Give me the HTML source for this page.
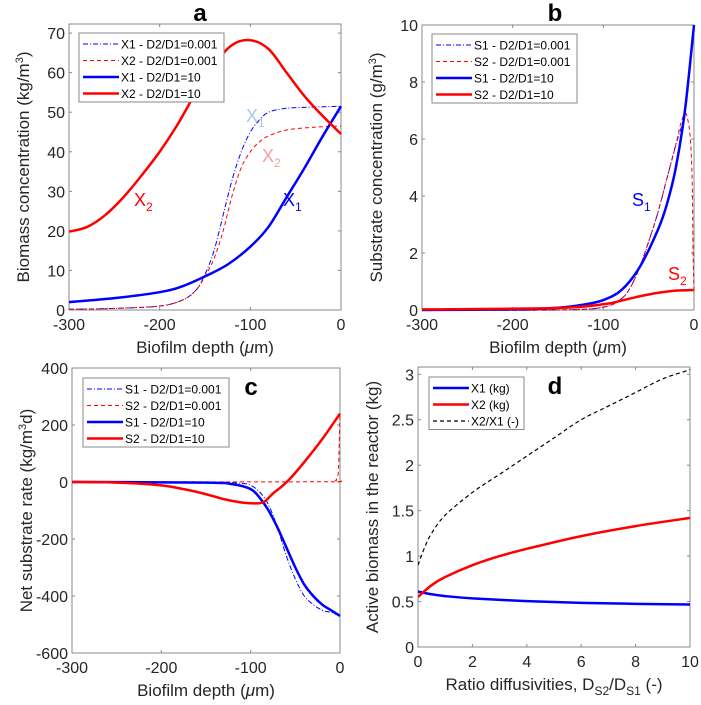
<!DOCTYPE html>
<html><head><meta charset="utf-8"><style>
body{margin:0;background:#fff;}
svg{display:block;font-family:"Liberation Sans",Arial,sans-serif;}
</style></head><body>
<svg id="chart" width="701" height="705" viewBox="0 0 701 705"></svg>
<script>
// ---- Panel a data ----
const aX = [-300,-250,-200,-175,-160,-150,-140,-130,-120,-110,-100,-90,-80,-60,-30,0];
const aX1thin = [0.2,0.4,1,2.5,5,9,15,24,33,40,45,48,50,51,51.3,51.5];
const aX2thin = [0.2,0.4,1,2.5,5,8.5,13,20,29,36,40,42.5,44,45.5,46.2,46.5];
const aXthick = [-300,-250,-200,-175,-150,-125,-100,-80,-60,-40,-20,0];
const aX1thick = [2,3,4.5,6,8.5,11.5,16,21,28.5,36,44,51.5];
const aX2x = [-300,-280,-260,-240,-220,-200,-180,-160,-140,-120,-100,-80,-60,-40,-20,0];
const aX2thick = [19.8,21,24,28.5,34,40,47,55,62,67,68.2,66,60,54,49,44.5];
const aYTicks = [0,10,20,30,40,50,60,70];
const depthTicks = [-300,-200,-100,0];
// ---- Panel b data ----
const bS1thinX = [-300,-150,-100,-80,-70,-60,-50,-40,-30,-20,-10,-5,0];
const bS1thin = [0,0,0.1,0.4,0.8,1.5,2.4,3.4,4.6,5.8,6.9,8.3,10];
const bS2thinX = [-300,-150,-100,-80,-70,-60,-50,-40,-30,-20,-15,-10,-7,-4,-2,-1,0];
const bS2thin = [0,0,0.1,0.4,0.8,1.5,2.4,3.4,4.6,5.8,6.5,6.9,6.7,6,4.5,2,0.7];
const bS1thickX = [-300,-200,-150,-120,-100,-80,-60,-40,-30,-20,-10,0];
const bS1thick = [0,0.02,0.08,0.2,0.35,0.7,1.5,2.8,3.7,5,7,10];
const bS2thickX = [-300,-150,-100,-80,-60,-40,-20,0];
const bS2thick = [0.02,0.07,0.2,0.33,0.48,0.6,0.68,0.7];
const bYTicks = [0,2,4,6,8,10];
// ---- Panel c data ----
const cS1thinX = [-300,-150,-110,-100,-90,-80,-70,-60,-50,-40,-30,-20,-10,0];
const cS1thin = [0,0,-5,-12,-35,-80,-160,-260,-340,-400,-430,-450,-458,-470];
const cS2thinX = [-300,-10,-5,-2,-1,0];
const cS2thin = [0,1,5,30,120,240];
const cS1thickX = [-300,-150,-120,-100,-90,-80,-70,-60,-50,-40,-30,-20,-10,0];
const cS1thick = [0,-2,-8,-25,-55,-100,-160,-230,-300,-360,-400,-430,-450,-470];
const cS2thickX = [-300,-250,-200,-160,-130,-110,-95,-85,-75,-65,-55,-40,-20,0];
const cS2thick = [0,-2,-12,-35,-60,-72,-75,-70,-40,-15,15,70,150,240];
const cYTicks = [-600,-400,-200,0,200,400];
// ---- Panel d data ----
const dX1x = [0,0.5,1,2,4,6,8,10];
const dX1 = [0.61,0.58,0.56,0.535,0.505,0.485,0.475,0.468];
const dX2x = [0,0.5,1,2,3,4,6,8,10];
const dX2 = [0.55,0.68,0.77,0.9,1.0,1.08,1.22,1.33,1.42];
const dRx = [0,0.25,0.5,1,2,3,4,5,6,7,8,9,10];
const dRatio = [0.9,1.1,1.25,1.45,1.7,1.9,2.1,2.3,2.5,2.65,2.8,2.95,3.05];
const dXTicks = [0,2,4,6,8,10];
const dYTicks = [0,0.5,1,1.5,2,2.5,3];

const NS="http://www.w3.org/2000/svg";
const svg=document.getElementById('chart');
function mk(tag,attrs,parent,text){const e=document.createElementNS(NS,tag);for(const k in attrs)e.setAttribute(k,attrs[k]);if(text!==undefined)e.textContent=text;(parent||svg).appendChild(e);return e;}
function smoothPath(pts){let d='M'+pts[0][0]+','+pts[0][1];for(let i=0;i<pts.length-1;i++){const p0=pts[Math.max(0,i-1)],p1=pts[i],p2=pts[i+1],p3=pts[Math.min(pts.length-1,i+2)];const c1x=p1[0]+(p2[0]-p0[0])/6,c1y=p1[1]+(p2[1]-p0[1])/6,c2x=p2[0]-(p3[0]-p1[0])/6,c2y=p2[1]-(p3[1]-p1[1])/6;d+=' C'+c1x+','+c1y+' '+c2x+','+c2y+' '+p2[0]+','+p2[1];}return d;}
const styles={thinBlue:{stroke:'#0000ff','stroke-width':1,'stroke-dasharray':'5,2,1,2'},thinRed:{stroke:'#ff0000','stroke-width':1,'stroke-dasharray':'4,3'},thickBlue:{stroke:'#0000ff','stroke-width':2.5},thickRed:{stroke:'#ff0000','stroke-width':2.5},dashBlack:{stroke:'#000','stroke-width':1.2,'stroke-dasharray':'4,3'}};

function panel(p){
  const g=mk('g',{});  
  const sx=v=>p.l+(v-p.xmin)/(p.xmax-p.xmin)*(p.r-p.l);
  const sy=v=>p.b-(v-p.ymin)/(p.ymax-p.ymin)*(p.b-p.t);
  const clip='clip-'+p.name; const cp=mk('clipPath',{id:clip},g); mk('rect',{x:p.l,y:p.t-2,width:p.r-p.l+2,height:p.b-p.t+4},cp);
  const ax=mk('rect',{x:p.l,y:p.t,width:p.r-p.l,height:p.b-p.t,fill:'none',stroke:'#888','stroke-width':1},g);
   
  p.xt.forEach(v=>{const x=sx(v);mk('line',{x1:x,x2:x,y1:p.b,y2:p.b-3,stroke:'#888'},g);mk('line',{x1:x,x2:x,y1:p.t,y2:p.t+3,stroke:'#888'},g);
    const t=mk('text',{x:x,y:p.b+20,'text-anchor':'middle','font-size':16,fill:'#262626'},g,String(v));});
  p.yt.forEach(v=>{const y=sy(v);mk('line',{x1:p.l,x2:p.l+3,y1:y,y2:y,stroke:'#888'},g);mk('line',{x1:p.r,x2:p.r-3,y1:y,y2:y,stroke:'#888'},g);
    const t=mk('text',{x:p.l-4,y:y+6,'text-anchor':'end','font-size':16,fill:'#262626'},g,String(v));});
  p.series.forEach(s=>{const pts=s.x.map((xv,i)=>[sx(xv),sy(s.y[i])]);const a=Object.assign({d:smoothPath(pts),fill:'none','clip-path':'url(#'+clip+')'},styles[s.st]);const e=mk('path',a,g);});
  const L=p.leg; const lb=mk('rect',{x:L.x,y:L.y,width:L.w,height:L.items.length*16.5+3,fill:'#fff',stroke:'#888'},g);
   
  L.items.forEach((it,i)=>{const y=L.y+11+i*16.5;mk('line',Object.assign({x1:L.x+4,x2:L.x+40,y1:y,y2:y},styles[it[1]]),g);
    const t=mk('text',{x:L.x+42,y:y+4.5,'font-size':12,fill:'#000'},g,it[0]);});
  const xl=mk('text',{x:(p.l+p.r)/2,y:p.b+43,'text-anchor':'middle','font-size':17,fill:'#262626'},g); xl.innerHTML=p.xlab;
   
  const yx=p.l-40, yy=(p.t+p.b)/2;
  const yl=mk('text',{x:yx,y:yy,'text-anchor':'middle','font-size':17,fill:'#262626',transform:'rotate(-90 '+yx+' '+yy+')'},g); yl.innerHTML=p.ylab;
   
  const ti=mk('text',{x:p.title[1],y:p.title[2],'text-anchor':'middle','font-size':24,'font-weight':'bold',fill:'#000'},g,p.title[0]);
   
  (p.ann||[]).forEach(a=>{const t=mk('text',{x:a[2],y:a[3],'font-size':18,fill:a[1]},g);t.innerHTML=a[0];});
}
const depthLab='Biofilm depth (<tspan font-style="italic">μ</tspan>m)';
panel({name:'panel-a',l:69,r:341,t:24,b:310,xmin:-300,xmax:0,ymin:0,ymax:72.3,xt:depthTicks,yt:aYTicks,
  ylab:'Biomass concentration (kg/m<tspan dy="-6" font-size="11">3</tspan><tspan dy="6">)</tspan>',xlab:depthLab,title:['a',200,21],
  series:[{name:'x1-ratio-0.001',x:aX,y:aX1thin,st:'thinBlue'},{name:'x2-ratio-0.001',x:aX,y:aX2thin,st:'thinRed'},{name:'x1-ratio-10',x:aXthick,y:aX1thick,st:'thickBlue'},{name:'x2-ratio-10',x:aX2x,y:aX2thick,st:'thickRed'}],
  leg:{x:79,y:33,w:145,items:[['X1 - D2/D1=0.001','thinBlue'],['X2 - D2/D1=0.001','thinRed'],['X1 - D2/D1=10','thickBlue'],['X2 - D2/D1=10','thickRed']]},
  ann:[['X<tspan dy="5" font-size="12">2</tspan>','#ff0000',134,206],['X<tspan dy="5" font-size="12">1</tspan>','#a8c8f0',246,122],['X<tspan dy="5" font-size="12">2</tspan>','#f4a0a0',262,162],['X<tspan dy="5" font-size="12">1</tspan>','#0000ff',283,206]]});
panel({name:'panel-b',l:422,r:694,t:25,b:310,xmin:-300,xmax:0,ymin:0,ymax:10,xt:depthTicks,yt:bYTicks,
  ylab:'Substrate concentration (g/m<tspan dy="-6" font-size="11">3</tspan><tspan dy="6">)</tspan>',xlab:depthLab,title:['b',555,21],
  series:[{name:'s1-ratio-0.001',x:bS1thinX,y:bS1thin,st:'thinBlue'},{name:'s2-ratio-0.001',x:bS2thinX,y:bS2thin,st:'thinRed'},{name:'s1-ratio-10',x:bS1thickX,y:bS1thick,st:'thickBlue'},{name:'s2-ratio-10',x:bS2thickX,y:bS2thick,st:'thickRed'}],
  leg:{x:432,y:34,w:145,items:[['S1 - D2/D1=0.001','thinBlue'],['S2 - D2/D1=0.001','thinRed'],['S1 - D2/D1=10','thickBlue'],['S2 - D2/D1=10','thickRed']]},
  ann:[['S<tspan dy="5" font-size="12">1</tspan>','#0000ff',632,206],['S<tspan dy="5" font-size="12">2</tspan>','#ff0000',668,280]]});
panel({name:'panel-c',l:72,r:340,t:368,b:653,xmin:-300,xmax:0,ymin:-600,ymax:400,xt:depthTicks,yt:cYTicks,
  ylab:'Net substrate rate (kg/m<tspan dy="-6" font-size="11">3</tspan><tspan dy="6">d)</tspan>',xlab:depthLab,title:['c',251,395],
  series:[{name:'s1-ratio-0.001',x:cS1thinX,y:cS1thin,st:'thinBlue'},{name:'s2-ratio-0.001',x:cS2thinX,y:cS2thin,st:'thinRed'},{name:'s1-ratio-10',x:cS1thickX,y:cS1thick,st:'thickBlue'},{name:'s2-ratio-10',x:cS2thickX,y:cS2thick,st:'thickRed'}],
  leg:{x:83,y:378,w:146,items:[['S1 - D2/D1=0.001','thinBlue'],['S2 - D2/D1=0.001','thinRed'],['S1 - D2/D1=10','thickBlue'],['S2 - D2/D1=10','thickRed']]}});
panel({name:'panel-d',l:418,r:690,t:367,b:647,xmin:0,xmax:10,ymin:0,ymax:3.08,xt:dXTicks,yt:dYTicks,
  ylab:'Active biomass in the reactor (kg)',xlab:'Ratio diffusivities, D<tspan dy="5" font-size="12">S2</tspan><tspan dy="-5">/D</tspan><tspan dy="5" font-size="12">S1</tspan><tspan dy="-5"> (-)</tspan>',title:['d',555,394],
  series:[{name:'x1-kg',x:dX1x,y:dX1,st:'thickBlue'},{name:'x2-kg',x:dX2x,y:dX2,st:'thickRed'},{name:'x2-x1-ratio',x:dRx,y:dRatio,st:'dashBlack'}],
  leg:{x:429,y:377,w:95,items:[['X1 (kg)','thickBlue'],['X2 (kg)','thickRed'],['X2/X1 (-)','dashBlack']]}});
</script>
</body></html>
